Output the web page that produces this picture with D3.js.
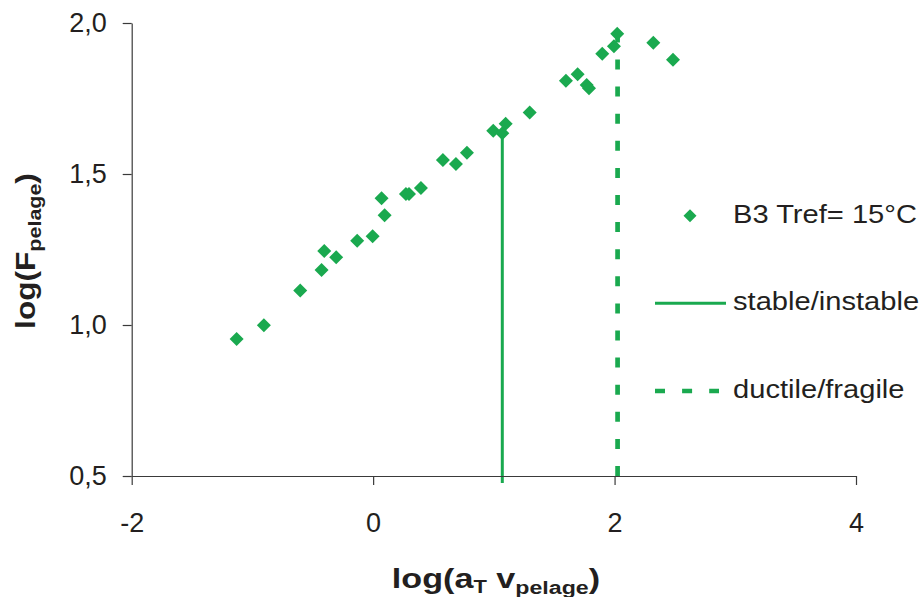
<!DOCTYPE html>
<html><head><meta charset="utf-8">
<script src="https://cdn.jsdelivr.net/npm/d3@7"></script>
<style>body{margin:0;background:#fff}svg{display:block}</style>
</head><body><svg id="c" width="919" height="597"></svg>
<script>
// Data: log(aT v_pelage) vs log(F_pelage), series "B3 Tref= 15°C"
const xValues = [-1.131,-0.905,-0.604,-0.427,-0.405,-0.306,-0.132,-0.004,0.070,0.095,0.272,0.297,0.396,0.578,0.686,0.777,0.995,1.070,1.098,1.297,1.597,1.694,1.769,1.788,1.898,1.995,2.022,2.321,2.484];
const yValues = [0.954,0.999,1.114,1.182,1.245,1.224,1.279,1.294,1.420,1.363,1.434,1.434,1.454,1.546,1.533,1.570,1.643,1.635,1.666,1.704,1.809,1.830,1.795,1.784,1.898,1.923,1.964,1.935,1.878];
const xTicks = [-2,0,2,4];
const yTicks = [0.5,1.0,1.5,2.0];
const stableX = [1.07,1.07];
const stableY = [0.477,1.635];
const ductileX = [2.025,2.025];
const ductileY = [0.5,1.96];
const legendLabels = ["B3 Tref= 15°C","stable/instable","ductile/fragile"];

const green = "#1aa94f";
const axisCol = "#3a3a3a";
const font = "'Liberation Sans', Arial, sans-serif";
const svg = d3.select("#c");

const x = d3.scaleLinear().domain([-2,4]).range([131.7,856]);
const y = d3.scaleLinear().domain([0.5,2]).range([476,23]);
const fmt = d => d.toFixed(1).replace(".", ",");

// vertical lines
const line = d3.line().x(d=>x(d[0])).y(d=>y(d[1]));
svg.append("path").datum(stableX.map((v,i)=>[v,stableY[i]]))
  .attr("d", line).attr("stroke", green).attr("stroke-width", 3).attr("fill","none");
svg.append("path").datum(ductileX.map((v,i)=>[v,ductileY[i]]))
  .attr("d", line).attr("stroke", green).attr("stroke-width", 4.7).attr("fill","none")
  .attr("stroke-dasharray","10,17.1");

// axes
const gy = svg.append("g").attr("transform", `translate(${x(-2)},0)`)
  .call(d3.axisLeft(y).tickValues(yTicks).tickFormat(fmt).tickSize(9).tickSizeOuter(0).tickPadding(16));
const gx = svg.append("g").attr("transform", `translate(0,${y(0.5)})`)
  .call(d3.axisBottom(x).tickValues(xTicks).tickFormat(d=>d).tickSize(9).tickSizeOuter(0).tickPadding(28));
[gx,gy].forEach(g=>{
  g.selectAll("path,line").attr("stroke", axisCol).attr("stroke-width",1.2);
  g.selectAll("text").attr("font-family", font).attr("font-size", 27).attr("fill","#231f20");
});

// points
const sym = d3.symbol().type(d3.symbolSquare).size(98);
svg.append("g").selectAll("path").data(xValues.map((v,i)=>[v,yValues[i]]))
  .join("path").attr("d", sym)
  .attr("transform", d=>`translate(${x(d[0])},${y(d[1])}) rotate(45)`)
  .attr("fill", green);

// axis titles
const xt = svg.append("text").attr("transform","translate(496,588) scale(1.22,1)").attr("text-anchor","middle")
  .attr("font-family", font).attr("font-weight","bold").attr("font-size",28).attr("fill","#231f20");
xt.append("tspan").text("log(a");
xt.append("tspan").attr("font-size",18).attr("dy",5).text("T");
xt.append("tspan").attr("dy",-5).text(" v");
xt.append("tspan").attr("font-size",19).attr("dy",6).text("pelage");
xt.append("tspan").attr("dy",-6).text(")");

const yt = svg.append("text").attr("transform","translate(35,251) rotate(-90) scale(1.13,1)").attr("text-anchor","middle")
  .attr("font-family", font).attr("font-weight","bold").attr("font-size",28).attr("fill","#231f20");
yt.append("tspan").text("log(F");
yt.append("tspan").attr("font-size",19).attr("dy",6).text("pelage");
yt.append("tspan").attr("dy",-6).text(")");

// legend
const lg = svg.append("g");
lg.append("path").attr("d", d3.symbol().type(d3.symbolSquare).size(85)())
  .attr("transform","translate(690,215.7) rotate(45)").attr("fill", green);
lg.append("line").attr("x1",655).attr("x2",726).attr("y1",303.3).attr("y2",303.3)
  .attr("stroke",green).attr("stroke-width",3);
lg.append("line").attr("x1",655).attr("x2",719).attr("y1",391).attr("y2",391)
  .attr("stroke",green).attr("stroke-width",4.5).attr("stroke-dasharray","10,17.1");
const ly = [223.3,310,398];
lg.selectAll("text.l").data(legendLabels).join("text").attr("class","l")
  .attr("transform",(d,i)=>`translate(733,${ly[i]}) scale(1.12,1)`).text(d=>d)
  .attr("font-family", font).attr("font-size",26).attr("fill","#231f20");
</script></body></html>
